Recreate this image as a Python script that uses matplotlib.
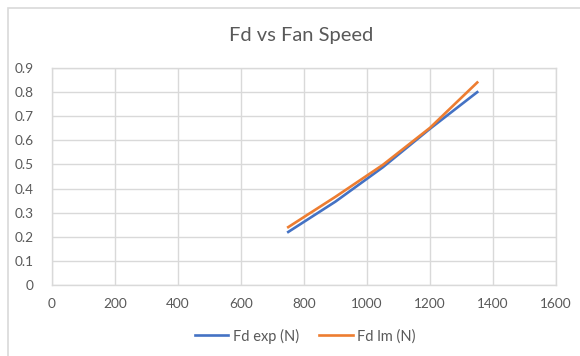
import matplotlib.pyplot as plt
from matplotlib.patches import Rectangle

# fan speed (rpm) and drag force readings
fan_speed = [750, 900, 1050, 1200, 1350]
fd_exp = [0.22, 0.346, 0.488, 0.648, 0.80]
fd_lm = [0.24, 0.366, 0.498, 0.652, 0.84]

x_ticks = [0, 200, 400, 600, 800, 1000, 1200, 1400, 1600]
y_ticks = [0, 0.1, 0.2, 0.3, 0.4, 0.5, 0.6, 0.7, 0.8, 0.9]

plt.rcParams['font.family'] = ['Lato', 'DejaVu Sans']
text_color = '#595959'
grid_color = '#d9d9d9'

fig = plt.figure(figsize=(5.8, 3.56), dpi=100)
fig.patches.append(Rectangle((8 / 580, -0.1), 1.2, 1 - 8 / 356 + 0.1, transform=fig.transFigure,
                             fill=False, edgecolor='#d9d9d9', linewidth=1.2))

ax = fig.add_axes([52 / 580, 1 - 285 / 356, 504 / 580, 217 / 356])
ax.plot(fan_speed, fd_exp, color='#4472C4', linewidth=1.9, label='Fd exp (N)')
ax.plot(fan_speed, fd_lm, color='#ED7D31', linewidth=1.9, label='Fd lm (N)')

ax.set_xlim(0, 1600)
ax.set_ylim(0, 0.9)
ax.set_xticks(x_ticks)
ax.set_yticks(y_ticks)
ax.set_yticklabels(['0' if v == 0 else f'{v:.1f}' for v in y_ticks])
ax.grid(True, color=grid_color, linewidth=1)
ax.set_axisbelow(True)
for s in ax.spines.values():
    s.set_color(grid_color)
    s.set_linewidth(1)
ax.tick_params(length=0, colors=text_color, labelsize=9.8)
ax.tick_params(axis='x', pad=9)
ax.tick_params(axis='y', pad=13)

fig.text(0.52, 1 - 35 / 356, 'Fd vs Fan Speed', ha='center', va='center', fontsize=14.5, color=text_color)
fig.legend(loc='center', bbox_to_anchor=(0.526, 1 - 336 / 356), ncol=2, frameon=False,
           fontsize=10.5, labelcolor=text_color, handlelength=2.3, columnspacing=1.4, handletextpad=0.3)

fig.savefig('out.png', dpi=100)
